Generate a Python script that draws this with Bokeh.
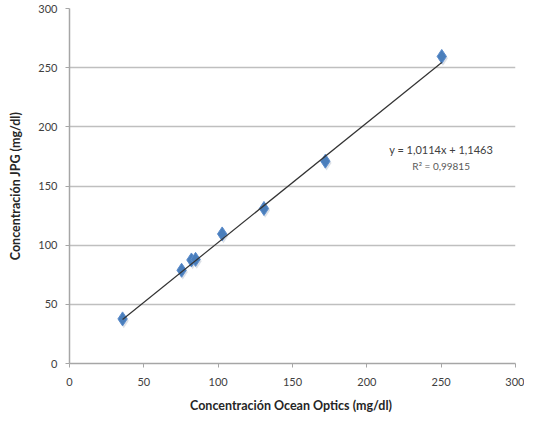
from bokeh.plotting import figure
from bokeh.models import Range1d, Label, FixedTicker
from bokeh.embed import file_html
from bokeh.resources import INLINE

# Data
x_ocean = [35.7, 75.4, 82.0, 84.8, 102.7, 130.8, 172.1, 250.4]
y_jpg = [37.7, 78.8, 87.5, 88.0, 109.5, 131.0, 171.0, 259.5]
slope = 1.0114
intercept = 1.1463
eq_text = "y = 1,0114x + 1,1463"
r2_text = "R² = 0,99815"
ticks = [0, 50, 100, 150, 200, 250, 300]

p = figure(width=524, height=415, output_backend="svg", toolbar_location=None,
           x_range=Range1d(0, 300), y_range=Range1d(0, 300),
           min_border_left=69, min_border_right=9, min_border_top=8, min_border_bottom=48)
p.outline_line_color = None
p.background_fill_color = "white"
p.border_fill_color = "white"

font = "Lato"
for ax in (p.xaxis[0], p.yaxis[0]):
    ax.ticker = FixedTicker(ticks=ticks)
    ax.axis_line_color = "#a6a6a6"
    ax.axis_line_width = 1.5
    ax.major_tick_line_color = "#a6a6a6"
    ax.major_tick_out = 4
    ax.major_tick_in = 0
    ax.minor_tick_line_color = None
    ax.major_label_text_font = font
    ax.major_label_text_font_size = "11px"
    ax.major_label_text_color = "#404040"
    ax.axis_label_text_font = font
    ax.axis_label_text_font_size = "12.5px"
    ax.axis_label_text_font_style = "bold"
    ax.axis_label_text_color = "#262626"

p.xaxis.axis_label = "Concentración  Ocean Optics (mg/dl)"
p.yaxis.axis_label = "Concentración JPG (mg/dl)"
p.xaxis.major_label_standoff = 10
p.xaxis.axis_label_standoff = 9
p.yaxis.major_label_standoff = 8
p.yaxis.axis_label_standoff = 12

p.xgrid.grid_line_color = None
p.ygrid.grid_line_color = "#bfbfbf"
p.ygrid.grid_line_width = 1.6
p.ygrid.ticker = FixedTicker(ticks=ticks)

# points (with soft shadow)
p.scatter([v + 0.8 for v in x_ocean], [v - 1.5 for v in y_jpg], marker="diamond", size=15,
          fill_color="#9aa7b8", line_color=None, fill_alpha=0.35)
p.scatter(x_ocean, y_jpg, marker="diamond", size=14, fill_color="#4a7ebb",
          line_color="#5b8ccc", line_width=1)

# trend line
xs = [min(x_ocean), max(x_ocean)]
ys = [slope * v + intercept for v in xs]
p.line(xs, ys, line_color="#333333", line_width=1.2)

p.add_layout(Label(x=250, y=180.5, text=eq_text, text_align="center", text_baseline="middle",
                   text_font=font, text_font_size="11px", text_color="#404040"))
p.add_layout(Label(x=250, y=166.5, text=r2_text, text_align="center", text_baseline="middle",
                   text_font=font, text_font_size="10px", text_color="#595959"))

open("out.html", "w").write(file_html(p, INLINE))
